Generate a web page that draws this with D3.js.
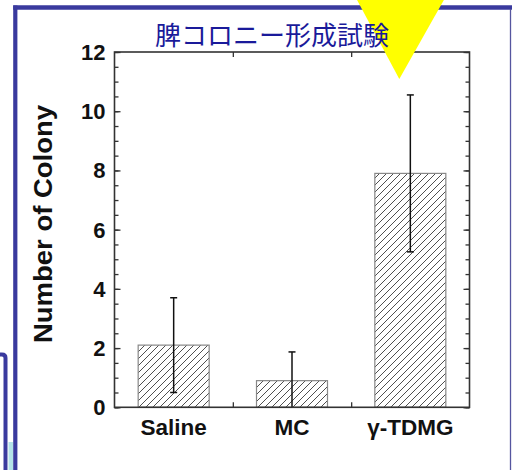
<!DOCTYPE html>
<html><head><meta charset="utf-8">
<script src="https://cdn.jsdelivr.net/npm/d3@7"></script>
<style>html,body{margin:0;padding:0;background:#fff;overflow:hidden}</style>
</head><body>
<svg id="c" width="512" height="470"></svg>
<script>
const title = "脾コロニー形成試験";
const yLabel = "Number of Colony";
const categories = ["Saline", "MC", "γ-TDMG"];
const values = [2.1, 0.9, 7.9];
const errors = [1.6, 0.97, 2.65];
const yTicks = [0, 2, 4, 6, 8, 10, 12];

const svg = d3.select("#c");
const L = 114.5, R = 469.5, T = 52, B = 407.3;

// slide frame decorations
svg.append("rect").attr("x", 8.5).attr("y", 442).attr("width", 4.5).attr("height", 30).attr("fill", "#b3e3e8");
svg.append("path").attr("d", "M0,354.5 H2 Q5.5,354.5 5.5,358 V470").attr("fill", "none").attr("stroke", "#3a3a9e").attr("stroke-width", 4);
svg.append("line").attr("x1", 15.3).attr("x2", 15.3).attr("y1", 5.5).attr("y2", 470).attr("stroke", "#3a3a9e").attr("stroke-width", 4.2);
svg.append("line").attr("x1", 13.2).attr("x2", 512).attr("y1", 7.5).attr("y2", 7.5).attr("stroke", "#3a3a9e").attr("stroke-width", 4.5);
svg.append("line").attr("x1", 510.5).attr("x2", 510.5).attr("y1", 9).attr("y2", 470).attr("stroke", "#55559f").attr("stroke-width", 1.3);

// hatch pattern
const defs = svg.append("defs");
const pat = defs.append("pattern").attr("id", "hatch").attr("patternUnits", "userSpaceOnUse")
  .attr("width", 7).attr("height", 7);
pat.append("path").attr("d", "M-1,1 L1,-1 M0,7 L7,0 M6,8 L8,6")
  .attr("stroke", "#222").attr("stroke-width", 0.8);

const x = d3.scaleBand().domain(categories).range([L, R]).paddingInner(0.4).paddingOuter(0.2);
const y = d3.scaleLinear().domain([0, 12]).range([B, T]);

// bars
svg.selectAll("rect.bar").data(categories).join("rect").attr("class", "bar")
  .attr("x", d => x(d)).attr("width", x.bandwidth())
  .attr("y", (d, i) => y(values[i])).attr("height", (d, i) => B - y(values[i]))
  .attr("fill", "url(#hatch)").attr("stroke", "#888").attr("stroke-width", 1.2);

// error bars
const eg = svg.append("g").attr("stroke", "#111").attr("stroke-width", 1.5);
categories.forEach((c, i) => {
  const cx = x(c) + x.bandwidth() / 2;
  const hi = values[i] + errors[i];
  const loRaw = values[i] - errors[i];
  const lo = Math.max(0, loRaw);
  eg.append("line").attr("x1", cx).attr("x2", cx).attr("y1", y(hi)).attr("y2", y(lo));
  eg.append("line").attr("x1", cx - 3.5).attr("x2", cx + 3.5).attr("y1", y(hi)).attr("y2", y(hi));
  if (loRaw > 0) eg.append("line").attr("x1", cx - 3.5).attr("x2", cx + 3.5).attr("y1", y(lo)).attr("y2", y(lo));
});

// axes frame
const axColor = "#333";
const minor = d3.range(0, 12.01, 0.5);
svg.append("g").attr("transform", `translate(${L},0)`)
  .call(d3.axisRight(y).tickValues(minor).tickSize(4).tickFormat(""));
svg.append("g").attr("transform", `translate(${L},0)`)
  .call(d3.axisRight(y).tickValues(yTicks).tickSize(6).tickFormat(""));
svg.append("g").attr("transform", `translate(${R},0)`)
  .call(d3.axisLeft(y).tickValues(minor).tickSize(4).tickFormat(""));
svg.append("g").attr("transform", `translate(${R},0)`)
  .call(d3.axisLeft(y).tickValues(yTicks).tickSize(6).tickFormat(""));
const bounds = [x.step() + L, 2 * x.step() + L];
const xb = d3.scaleLinear().domain([L, R]).range([L, R]);
svg.append("g").attr("transform", `translate(0,${B})`)
  .call(d3.axisTop(xb).tickValues(bounds).tickSize(5).tickFormat(""));
svg.append("g").attr("transform", `translate(0,${T})`)
  .call(d3.axisBottom(xb).tickValues(bounds).tickSize(5).tickFormat(""));
svg.selectAll(".domain").remove();
svg.selectAll(".tick line").attr("stroke", axColor).attr("stroke-width", 1.3);
svg.append("rect").attr("x", L).attr("y", T).attr("width", R - L).attr("height", B - T)
  .attr("fill", "none").attr("stroke", axColor).attr("stroke-width", 1.6);

// tick labels
svg.append("g").selectAll("text").data(yTicks).join("text")
  .attr("x", 105.5).attr("y", d => y(d)).attr("dy", "0.36em")
  .attr("text-anchor", "end").attr("font-family", "Liberation Sans, Arial, sans-serif")
  .attr("font-weight", "bold").attr("font-size", 22).attr("fill", "#111")
  .text(d => d);

svg.append("g").selectAll("text").data(categories).join("text")
  .attr("x", d => x(d) + x.bandwidth() / 2).attr("y", 435)
  .attr("text-anchor", "middle").attr("font-family", "Liberation Sans, Arial, sans-serif")
  .attr("font-weight", "bold").attr("font-size", 22.5).attr("fill", "#111")
  .text(d => d);

svg.append("text").attr("transform", "translate(51.5,224) rotate(-90)")
  .attr("text-anchor", "middle").attr("font-family", "Liberation Sans, Arial, sans-serif")
  .attr("font-weight", "bold").attr("font-size", 26).attr("fill", "#111")
  .attr("textLength", 238).attr("lengthAdjust", "spacingAndGlyphs")
  .text(yLabel);

// yellow marker triangle (over axes and frame, under title)
svg.append("path").attr("d", "M356,-2 L445,-2 L399.3,79 Z").attr("fill", "#ffff00");

svg.append("text").attr("x", 272).attr("y", 44.5).attr("text-anchor", "middle")
  .attr("font-family", "Noto Sans CJK JP, sans-serif").attr("font-size", 26)
  .attr("fill", "#1a1a9a").attr("textLength", 234).attr("lengthAdjust", "spacingAndGlyphs")
  .text(title);
</script>
</body></html>
